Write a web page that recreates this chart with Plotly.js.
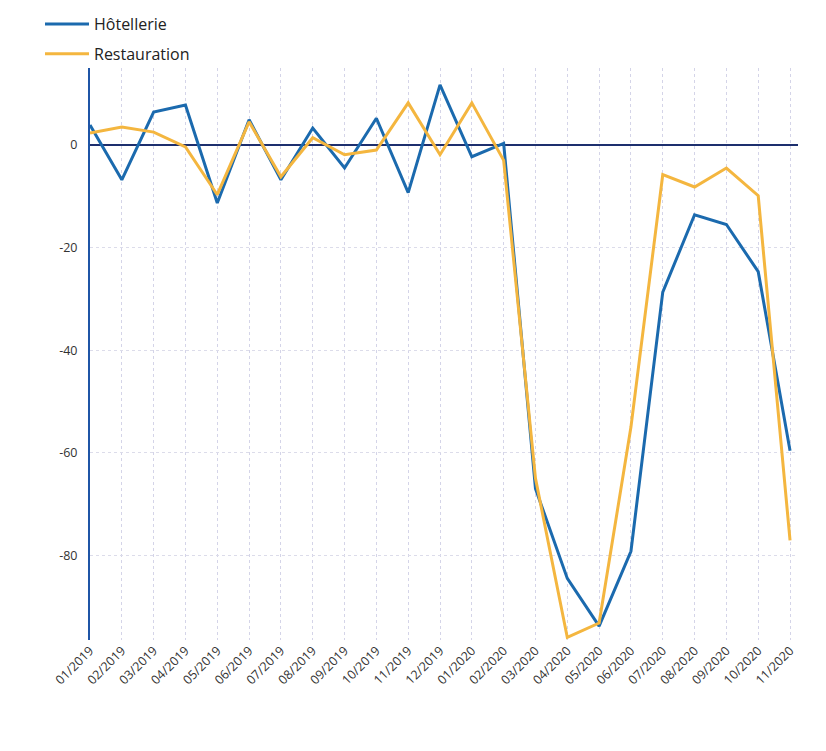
<!DOCTYPE html>
<html>
<head>
<meta charset="utf-8">
<script src="https://cdn.plot.ly/plotly-3.0.1.min.js"></script>
<style>html,body{margin:0;padding:0;background:#fff;}#chart{width:826px;height:751px;}</style>
</head>
<body>
<div id="chart"></div>
<script>
const months = ["01/2019","02/2019","03/2019","04/2019","05/2019","06/2019","07/2019","08/2019","09/2019","10/2019","11/2019","12/2019",
                "01/2020","02/2020","03/2020","04/2020","05/2020","06/2020","07/2020","08/2020","09/2020","10/2020","11/2020"];
const hotellerie = [3.9, -6.8, 6.4, 7.8, -11.3, 4.9, -6.8, 3.3, -4.5, 5.2, -9.3, 11.7,
                    -2.3, 0.3, -67, -84.5, -93.8, -79.2, -28.7, -13.6, -15.5, -24.7, -59.6];
const restauration = [2.3, 3.5, 2.5, -0.4, -9.7, 4.5, -6.2, 1.4, -1.9, -1, 8.2, -1.9,
                      8.2, -3, -65, -96, -93.2, -55, -5.8, -8.2, -4.5, -9.9, -77.1];
const yTicks = [0, -20, -40, -60, -80];
const yTickText = ["0", "-20", "-40", "-60", "-80"];

const traces = [
  {x: months, y: hotellerie, name: "Hôtellerie", type: "scatter", mode: "lines", legendgroup: "a",
   line: {color: "#1b6aae", width: 3}},
  {x: months, y: restauration, name: "Restauration", type: "scatter", mode: "lines", legendgroup: "b",
   line: {color: "#f4b63f", width: 3}}
];

const layout = {
  width: 826, height: 751,
  margin: {l: 90, r: 28, t: 68, b: 111, autoexpand: false},
  paper_bgcolor: "#fff", plot_bgcolor: "#fff",
  font: {family: "Open Sans, DejaVu Sans, sans-serif", color: "#333", size: 12},
  showlegend: true,
  legend: {xref: "container", yref: "container", x: 40/826, y: 1 - 7/751, xanchor: "left", yanchor: "top",
           orientation: "v", traceorder: "grouped", tracegroupgap: 6,
           font: {size: 16, color: "#222"}, itemwidth: 44, bgcolor: "rgba(0,0,0,0)"},
  xaxis: {type: "category", range: [0, 22.25], tickangle: -45,
          showgrid: true, gridcolor: "#d4d4e8", griddash: "dot", gridwidth: 1,
          showline: false, zeroline: false, ticks: "", tickfont: {size: 12.5, color: "#333"}},
  yaxis: {range: [-96.5, 15], tickvals: yTicks, ticktext: yTickText,
          showgrid: true, gridcolor: "#dcdcea", griddash: "dot", gridwidth: 1,
          zeroline: true, zerolinecolor: "#1d2f6e", zerolinewidth: 1.5,
          showline: true, linecolor: "#1f55a6", linewidth: 2,
          ticks: "", ticklabelstandoff: 8, tickfont: {size: 12.5, color: "#333"}}
};

Plotly.newPlot("chart", traces, layout, {displayModeBar: false, staticPlot: true});
</script>
</body>
</html>
